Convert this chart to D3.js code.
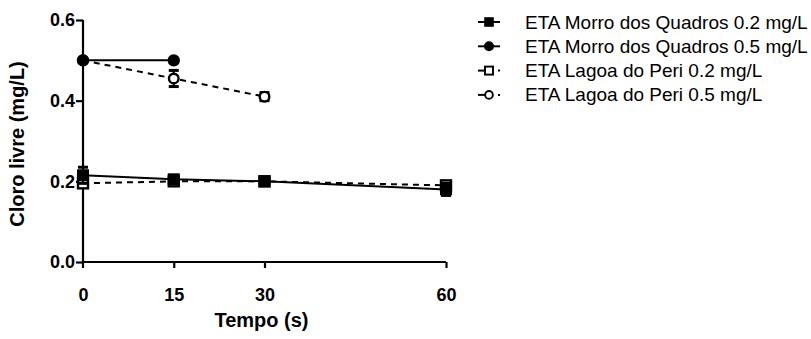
<!DOCTYPE html>
<html>
<head>
<meta charset="utf-8">
<script src="https://cdn.jsdelivr.net/npm/d3@7"></script>
<style>
  body { margin: 0; background: #fff; }
</style>
</head>
<body>
<svg id="chart" width="811" height="339"></svg>
<script>
const FONT = 'Arial, "Liberation Sans", Helvetica, sans-serif';

// time points (s)
const tempos = [0, 15, 30, 60];
const xTicks = [0, 15, 30, 60];
const yTicks = [0.0, 0.2, 0.4, 0.6];

// mean values, null = not measured
const mq02 = [0.215, 0.205, 0.200, 0.180];
const mq05 = [0.500, 0.500, null, null];
const lp02 = [0.195, 0.200, 0.200, 0.190];
const lp05 = [0.500, 0.455, 0.410, null];

// error (sd)
const mq02Err = [0.02, 0.005, 0.005, 0.015];
const mq05Err = [0, 0, 0, 0];
const lp02Err = [0.005, 0, 0, 0.005];
const lp05Err = [0, 0.02, 0.01, 0];

const seriesNames = [
  'ETA Morro dos Quadros 0.2 mg/L',
  'ETA Morro dos Quadros 0.5 mg/L',
  'ETA Lagoa do Peri 0.2 mg/L',
  'ETA Lagoa do Peri 0.5 mg/L'
];

const series = [
  { name: seriesNames[0], values: mq02, err: mq02Err, shape: 'square', filled: true, dashed: false },
  { name: seriesNames[1], values: mq05, err: mq05Err, shape: 'circle', filled: true, dashed: false },
  { name: seriesNames[2], values: lp02, err: lp02Err, shape: 'square', filled: false, dashed: true },
  { name: seriesNames[3], values: lp05, err: lp05Err, shape: 'circle', filled: false, dashed: true }
];

const svg = d3.select('#chart').attr('font-family', FONT);
const margin = { left: 83, top: 20, right: 365, bottom: 77 };
const width = 811 - margin.left - margin.right;
const height = 339 - margin.top - margin.bottom;

const g = svg.append('g').attr('transform', `translate(${margin.left},${margin.top})`);

const x = d3.scaleLinear().domain([0, 60]).range([0, width]);
const y = d3.scaleLinear().domain([0, 0.6]).range([height, 0]);

function styleAxis(s) {
  s.attr('font-family', FONT).attr('font-size', 18).attr('font-weight', 'bold');
  s.selectAll('path, line').attr('stroke', '#000').attr('stroke-width', 2.2);
  s.selectAll('text').attr('fill', '#000');
}

// axes
g.append('g')
  .attr('class', 'axis y-axis')
  .call(d3.axisLeft(y).tickValues(yTicks).tickFormat(d3.format('.1f')).tickSize(7).tickPadding(1))
  .call(s => s.select('.domain').attr('d', `M0,${height + 6}V0`))
  .call(styleAxis);

g.append('g')
  .attr('class', 'axis x-axis')
  .attr('transform', `translate(0,${height})`)
  .call(d3.axisBottom(x).tickValues(xTicks).tickSize(6).tickPadding(20))
  .call(s => s.select('.domain').attr('d', `M0,0H${width}`))
  .call(s => s.selectAll('.tick').filter(d => d === 0).select('line').remove())
  .call(styleAxis);

// axis labels
g.append('text')
  .attr('x', x(30) - 3)
  .attr('y', height + 65)
  .attr('text-anchor', 'middle')
  .attr('font-weight', 'bold')
  .attr('font-size', 20)
  .text('Tempo (s)');

g.append('text')
  .attr('transform', 'rotate(-90)')
  .attr('x', -124)
  .attr('y', -59)
  .attr('text-anchor', 'middle')
  .attr('font-weight', 'bold')
  .attr('font-size', 20)
  .text('Cloro livre (mg/L)');

function drawMarker(sel, s, cx, cy, scale) {
  const k = scale || 1;
  if (s.shape === 'square') {
    const size = (s.filled ? 12 : 10) * k;
    sel.append('rect')
      .attr('x', cx - size / 2).attr('y', cy - size / 2)
      .attr('width', size).attr('height', size)
      .attr('fill', s.filled ? '#000' : '#fff')
      .attr('stroke', '#000').attr('stroke-width', s.filled ? 0 : 2.4 * k);
  } else {
    sel.append('circle')
      .attr('cx', cx).attr('cy', cy)
      .attr('r', (s.filled ? 6.2 : 4.8) * k)
      .attr('fill', s.filled ? '#000' : '#fff')
      .attr('stroke', '#000').attr('stroke-width', s.filled ? 0 : 2.4 * k);
  }
}

// open-symbol series first so the filled ones sit on top
const drawOrder = [series[3], series[2], series[1], series[0]];
drawOrder.forEach(s => {
  const pts = tempos.map((t, i) => ({ t, v: s.values[i], e: s.err[i] })).filter(p => p.v !== null);
  const line = d3.line().x(p => x(p.t)).y(p => y(p.v));
  const sg = g.append('g');

  sg.append('path')
    .attr('d', line(pts))
    .attr('fill', 'none')
    .attr('stroke', '#000')
    .attr('stroke-width', 2)
    .attr('stroke-dasharray', s.dashed ? '6,5' : null);

  // error bars
  pts.filter(p => p.e > 0).forEach(p => {
    const cx = x(p.t);
    sg.append('line')
      .attr('x1', cx).attr('x2', cx)
      .attr('y1', y(p.v - p.e)).attr('y2', y(p.v + p.e))
      .attr('stroke', '#000').attr('stroke-width', 2);
    [p.v - p.e, p.v + p.e].forEach(v => {
      sg.append('line')
        .attr('x1', cx - 5).attr('x2', cx + 5)
        .attr('y1', y(v)).attr('y2', y(v))
        .attr('stroke', '#000').attr('stroke-width', 3);
    });
  });

  pts.forEach(p => drawMarker(sg, s, x(p.t), y(p.v)));
});

// legend
const legend = svg.append('g').attr('transform', 'translate(478,22)');
series.forEach((s, i) => {
  const row = legend.append('g').attr('transform', `translate(0,${i * 24.3})`);
  if (s.dashed) {
    row.append('line')
      .attr('x1', 0).attr('x2', 8).attr('y1', 0).attr('y2', 0)
      .attr('stroke', '#000').attr('stroke-width', 2);
    row.append('line')
      .attr('x1', 20).attr('x2', 22).attr('y1', 0).attr('y2', 0)
      .attr('stroke', '#000').attr('stroke-width', 2);
  } else {
    row.append('line')
      .attr('x1', 0).attr('x2', 22).attr('y1', 0).attr('y2', 0)
      .attr('stroke', '#000').attr('stroke-width', 2);
  }
  drawMarker(row, s, 11, 0, 0.8);
  row.append('text')
    .attr('x', 47)
    .attr('y', 6.5)
    .attr('font-size', 19)
    .attr('fill', '#000')
    .text(s.name);
});
</script>
</body>
</html>
